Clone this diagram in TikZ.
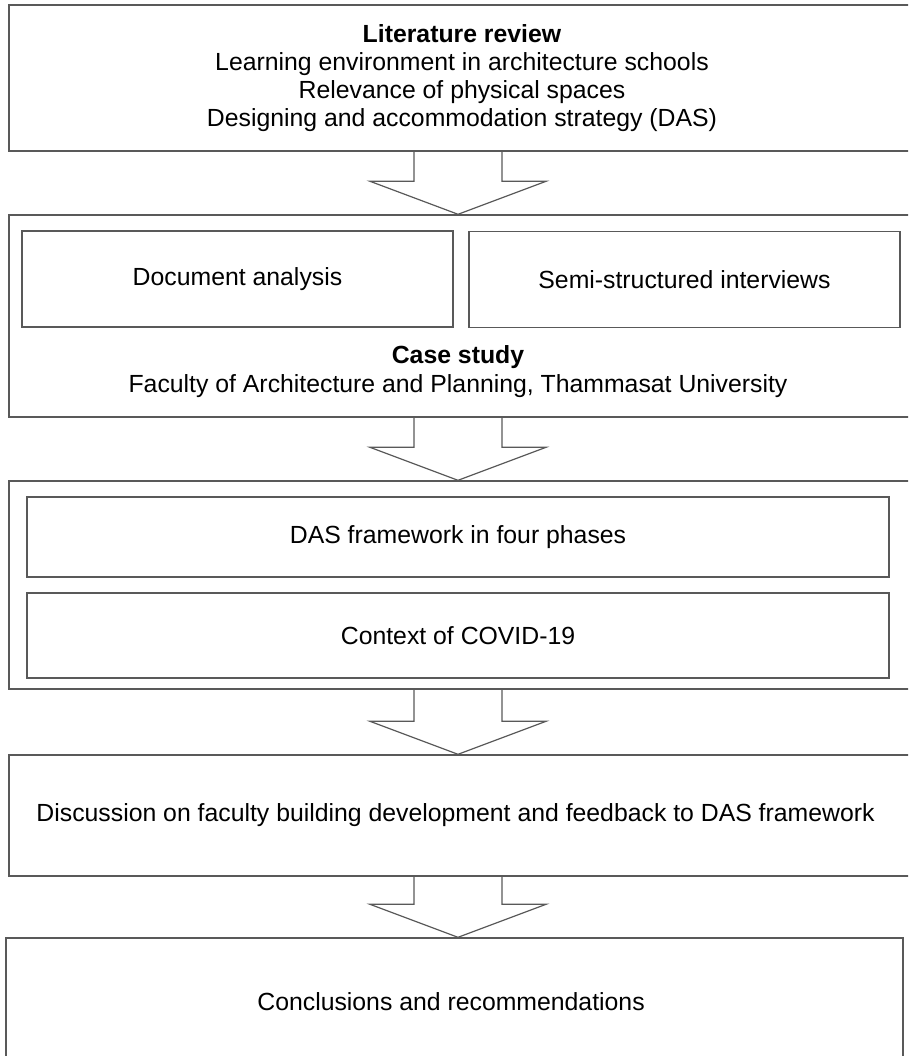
\documentclass[tikz,border=0pt]{standalone}
\usepackage{fontspec}
\setmainfont{Liberation Sans}
\usetikzlibrary{calc}

% hollow block arrow on the axis, from the bottom of #1 to the top of #2
\newcommand{\blockarrow}[2]{%
  \draw[arrowline] ($(axis |- #1.south)+(-44,0)$) -- ($(axis |- #2.north)+(-44,-33)$)
    -- ++(-44,0) -- (axis |- #2.north) -- ($(axis |- #2.north)+(88,-33)$)
    -- ++(-44,0) -- ($(axis |- #1.south)+(44,0)$);}

\begin{document}
\begin{tikzpicture}[x=1pt, y=-1pt,
  box/.style={draw=black!65, line width=1.4pt, fill=white, inner sep=0pt, align=center,
    font=\fontsize{24.8}{28}\selectfont},
  label/.style={align=center, inner sep=0pt, font=\fontsize{24.8}{29}\selectfont},
  arrowline/.style={draw=black!65, line width=1.2pt, line join=miter}]
  \clip (0,0) rectangle (908,1056);
  \coordinate (axis) at (458,0);

  \node[box, minimum width=906pt, minimum height=146pt] (lit) at (462,78) {
    \textbf{Literature review}\\
    Learning environment in architecture schools\\
    Relevance of physical spaces\\
    Designing and accommodation strategy (DAS)
  };

  % case study with its two methods
  \node[box, minimum width=906pt, minimum height=202pt] (case) at (462,316) {};
  \node[box, minimum width=431pt, minimum height=96pt] (docs) at (237.5,279) {Document analysis};
  \node[box, minimum width=431pt, minimum height=96pt] (interv) at (684.5,279.5) {Semi-structured interviews};
  \node[label] (caselabel) at (458,372) {
    \textbf{Case study}\\
    Faculty of Architecture and Planning, Thammasat University
  };

  % framework and context
  \node[box, minimum width=906pt, minimum height=208pt] (dasbox) at (462,585) {};
  \node[box, minimum width=862pt, minimum height=80pt] (phases) at (458,537) {DAS framework in four phases};
  \node[box, minimum width=862pt, minimum height=85pt] (covid) at (458,635.5) {Context of COVID-19};

  \node[box, minimum width=906pt, minimum height=121pt] (disc) at (462,815.5) {};
  \node[label] (disctext) at (459,815.5) {
    Discussion on faculty building development and feedback to DAS framework
  };
  \node[box, minimum width=897pt, minimum height=128pt] (concl) at (454.5,1002) {
    Conclusions and recommendations
  };

  \blockarrow{lit}{case}
  \blockarrow{case}{dasbox}
  \blockarrow{dasbox}{disc}
  \blockarrow{disc}{concl}
\end{tikzpicture}
\end{document}
